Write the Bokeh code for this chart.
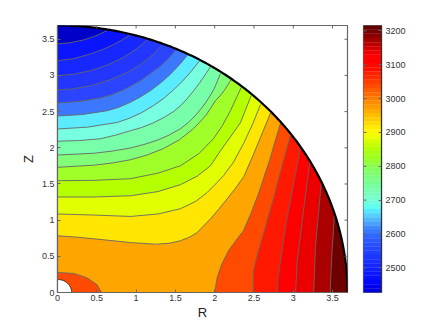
import numpy as np
from bokeh.plotting import figure
from bokeh.layouts import row
from bokeh.models import LinearAxis, FixedTicker, Range1d
from bokeh.embed import file_html
from bokeh.resources import INLINE

# contour lines, coolest to hottest
C1_R = [0, .15, .33, .483, .632]
C1_Z = [3.435, 3.45, 3.49, 3.544, 3.62]
C2_R = [0, .2, .42, .58, .712, .83, .929]
C2_Z = [3.204, 3.23, 3.297, 3.36, 3.426, 3.495, 3.564]
C3_R = [0, .2, .42, .64, .84, 1.0, 1.141]
C3_Z = [2.996, 3.015, 3.066, 3.145, 3.25, 3.36, 3.491]
C4_R = [0, .2, .42, .55, .68, .80, .929, 1.03, 1.13, 1.23, 1.319]
C4_Z = [2.80, 2.815, 2.859, 2.897, 2.945, 3.0, 3.066, 3.135, 3.21, 3.305, 3.412]
C5_R = [0, .27, .547, .68, .81, .93, 1.056, 1.17, 1.29, 1.40, 1.501]
C5_Z = [2.62, 2.64, 2.689, 2.73, 2.785, 2.85, 2.928, 3.015, 3.11, 3.22, 3.343]
C6_R = [0, .32, .636, .78, .92, 1.05, 1.183, 1.31, 1.43, 1.54, 1.65]
C6_Z = [2.44, 2.46, 2.513, 2.56, 2.625, 2.70, 2.79, 2.895, 3.01, 3.135, 3.274]
C7_R = [0, .38, .763, .92, 1.07, 1.21, 1.349, 1.47, 1.59, 1.70, 1.81]
C7_Z = [2.26, 2.285, 2.351, 2.41, 2.485, 2.575, 2.679, 2.795, 2.92, 3.055, 3.204]
C8_R = [0, .28, .547, .74, .929, 1.07, 1.2, 1.34, 1.476, 1.57, 1.65, 1.73, 1.81, 1.88, 1.947]
C8_Z = [2.09, 2.10, 2.125, 2.175, 2.236, 2.28, 2.335, 2.41, 2.50, 2.585, 2.68, 2.785, 2.90, 3.01, 3.122]
C9_R = [0, .47, .70, .929, 1.1, 1.27, 1.42, 1.565, 1.66, 1.75, 1.82, 1.883, 1.94, 1.99, 2.035, 2.074]
C9_Z = [1.90, 1.925, 1.955, 1.997, 2.045, 2.105, 2.175, 2.264, 2.345, 2.44, 2.53, 2.62, 2.715, 2.81, 2.92, 3.025]
C10_R = [0, .47, .70, .929, 1.14, 1.35, 1.55, 1.73, 1.81, 1.89, 1.95, 2.01, 2.07, 2.12, 2.21]
C10_Z = [1.73, 1.76, 1.79, 1.835, 1.90, 1.99, 2.11, 2.264, 2.355, 2.45, 2.55, 2.651, 2.72, 2.79, 2.942]
C11_R = [0, .47, .929, 1.28, 1.565, 1.8, 1.985, 2.1, 2.201, 2.337]
C11_Z = [1.545, 1.55, 1.573, 1.65, 1.752, 1.92, 2.126, 2.31, 2.513, 2.831]
C12_R = [0, .47, .929, 1.28, 1.565, 1.78, 1.947, 2.074, 2.2, 2.328, 2.464]
C12_Z = [1.32, 1.32, 1.337, 1.395, 1.49, 1.61, 1.752, 1.96, 2.15, 2.347, 2.72]
C13_R = [0, .47, .929, 1.28, 1.565, 1.76, 1.905, 2.03, 2.112, 2.239, 2.366, 2.48, 2.583]
C13_Z = [1.085, 1.07, 1.051, 1.085, 1.158, 1.26, 1.383, 1.52, 1.614, 1.80, 2.057, 2.32, 2.596]
C14_R = [0, .25, .505, .929, 1.247, 1.42, 1.565, 1.68, 1.781, 1.947, 2.05, 2.125, 2.25, 2.37, 2.49, 2.608, 2.71]
C14_Z = [.784, .765, .738, .69, .668, .68, .715, .765, .833, 1.019, 1.15, 1.25, 1.42, 1.60, 1.90, 2.209, 2.48]
B1_R = [2.0, 2.032, 2.09, 2.176, 2.27, 2.366, 2.46, 2.557, 2.697, 2.837]
B1_Z = [0, .207, .39, .577, .72, .853, 1.09, 1.365, 1.822, 2.337]
B2_R = [2.49, 2.494, 2.55, 2.621, 2.75, 2.875, 2.964]
B2_Z = [0, .30, .55, .812, 1.31, 1.822, 2.167]
B3_R = [2.80, 2.805, 2.837, 2.922, 3.062, 3.092]
B3_Z = [0, .2, .438, 1.037, 1.822, 2.029]
B4_R = [3.03, 3.05, 3.13, 3.212]
B4_Z = [0, .438, 1.13, 1.822]
B5_R = [3.26, 3.282, 3.355]
B5_Z = [0, .622, 1.50]
B6_R = [3.47, 3.486, 3.524]
B6_Z = [0, .438, 1.084]
BLOB_R = [0, .207, .29, .378, .505, .56]
BLOB_Z = [.277, .263, .235, .20, .107, 0]

contours = [(C1_R, C1_Z), (C2_R, C2_Z), (C3_R, C3_Z), (C4_R, C4_Z), (C5_R, C5_Z), (C6_R, C6_Z), (C7_R, C7_Z),
            (C8_R, C8_Z), (C9_R, C9_Z), (C10_R, C10_Z), (C11_R, C11_Z), (C12_R, C12_Z), (C13_R, C13_Z),
            (C14_R, C14_Z), (B1_R, B1_Z), (B2_R, B2_Z), (B3_R, B3_Z), (B4_R, B4_Z), (B5_R, B5_Z), (B6_R, B6_Z)]

band_colors = ["#0000c8", "#0a14ff", "#1628ff", "#2236ff", "#2a44ff", "#3c78ff", "#5aebff", "#78ffe1", "#78ffaa",
               "#82ff78", "#a0ff28", "#b4ff00", "#e1ff00", "#ffe600", "#ffa500", "#ff4b00", "#ff1900",
               "#ff0000", "#eb0000", "#aa0000", "#6e0000"]
blob_color = "#ff4b00"

# colour bar cells top to bottom
CB_TOP = 3216
CB_BOTTOM = 2427
cb_colors = ["#640000", "#780000", "#8c0000", "#a40000", "#bc0000", "#d40000", "#ec0000", "#ff0000",
             "#ff0000", "#ff0800", "#ff1000", "#ff2000", "#ff2c00", "#ff3c00", "#ff4c00", "#ff5c00",
             "#ff6c00", "#ff7c00", "#ff8c00", "#ff9c00", "#ffac00", "#ffbc00", "#ffcc00", "#ffdc00",
             "#ffec00", "#fff800", "#f0ff00", "#dcff00", "#c8ff00", "#b4ff00", "#a8ff10", "#a0ff20",
             "#98ff30", "#8cff48", "#84ff60", "#80ff70", "#7cff80", "#78ff90", "#78ffa0", "#78ffb0",
             "#78ffc0", "#78ffd0", "#70ffe0", "#60fff0", "#58e8ff", "#54d0ff", "#50b8ff", "#48a0ff",
             "#4088ff", "#3878ff", "#3068ff", "#2c58ff", "#2850ff", "#2448ff", "#2040ff", "#1c38ff",
             "#1830ff", "#1428ff", "#1020ff", "#0c18ff", "#0810ff", "#0008ff", "#0000f0", "#0000e0"]

r_ticks = [0, .5, 1, 1.5, 2, 2.5, 3, 3.5]
z_ticks = [0, .5, 1, 1.5, 2, 2.5, 3, 3.5]
cb_ticks = [2500, 2600, 2700, 2800, 2900, 3000, 3100, 3200]
R_OUT = 3.69
R_IN = 0.18
FONT = "Liberation Sans"
AX = "#666666"
TXT = "#333333"


def style_axis(ax, ticks, standoff):
    ax.ticker = FixedTicker(ticks=ticks)
    ax.axis_line_color = AX
    ax.axis_line_width = 1.2
    ax.major_tick_line_color = AX
    ax.major_tick_in = 3
    ax.major_tick_out = 0
    ax.minor_tick_line_color = None
    ax.major_label_text_font = FONT
    ax.major_label_text_color = TXT
    ax.major_label_text_font_size = "9px"
    ax.major_label_standoff = standoff


def arc_to_top(r_end, z_end):
    a0 = np.arctan2(z_end, r_end)
    a = np.linspace(a0, np.pi / 2, 60)
    return R_OUT * np.cos(a), R_OUT * np.sin(a)


p = figure(width=360, height=328, x_range=Range1d(0, R_OUT), y_range=Range1d(0, R_OUT),
           output_backend="svg", toolbar_location=None, x_axis_location=None, y_axis_location=None,
           min_border_left=57, min_border_right=13, min_border_top=25, min_border_bottom=36)
p.grid.visible = False
p.outline_line_color = AX
p.outline_line_width = 1.2
p.background_fill_color = "white"

ax_l = LinearAxis(axis_label="Z")
ax_b = LinearAxis(axis_label="R")
style_axis(ax_l, z_ticks, 3)
style_axis(ax_b, r_ticks, 2)
for ax in (ax_l, ax_b):
    ax.axis_label_text_font = FONT
    ax.axis_label_text_font_style = "normal"
    ax.axis_label_text_font_size = "13px"
    ax.axis_label_text_color = "#222222"
ax_l.axis_label_standoff = 3
ax_b.axis_label_standoff = 1
p.add_layout(ax_l, "left")
p.add_layout(ax_b, "below")

# whole quarter disc in the hottest colour, then cooler regions painted over it
ta = np.linspace(0, np.pi / 2, 200)
disc_x = np.concatenate([[0], R_OUT * np.cos(ta)])
disc_y = np.concatenate([[0], R_OUT * np.sin(ta)])
p.patch(disc_x, disc_y, fill_color=band_colors[20], line_color=None)

for k in range(len(contours) - 1, -1, -1):
    cr, cz = contours[k]
    ax_, az_ = arc_to_top(cr[-1], cz[-1])
    xs = list(cr) + list(ax_)
    ys = list(cz) + list(az_)
    if cz[0] == 0:
        xs = [0] + xs
        ys = [0] + ys
    p.patch(xs, ys, fill_color=band_colors[k], line_color=None)

p.patch([0] + BLOB_R, [0] + BLOB_Z, fill_color=blob_color, line_color=None)

line_color = "#666666"
p.multi_line([c[0] for c in contours] + [BLOB_R], [c[1] for c in contours] + [BLOB_Z],
             line_color=line_color, line_width=0.9)

p.patch(np.concatenate([[0], R_IN * np.cos(ta)]), np.concatenate([[0], R_IN * np.sin(ta)]),
        fill_color="white", line_color=None)
p.line(R_IN * np.cos(ta), R_IN * np.sin(ta), line_color="#111111", line_width=0.8)
p.line(R_OUT * np.cos(ta), R_OUT * np.sin(ta), line_color="black", line_width=2.2)

# tick marks on the top and right edges of the frame
dx = 3 * R_OUT / 290
dy = 3 * R_OUT / 267
p.segment(r_ticks, R_OUT, r_ticks, R_OUT - dy, line_color=AX, line_width=1)
p.segment(R_OUT, z_ticks, R_OUT - dx, z_ticks, line_color=AX, line_width=1)

cb_edges = np.linspace(CB_TOP, CB_BOTTOM, len(cb_colors) + 1)
cb = figure(width=76, height=328, x_range=Range1d(0, 1), y_range=Range1d(CB_BOTTOM, CB_TOP),
            output_backend="svg", toolbar_location=None, x_axis_location=None, y_axis_location=None,
            min_border_left=3, min_border_right=55, min_border_top=25, min_border_bottom=36)
cb.grid.visible = False
cb.outline_line_color = AX
cb.outline_line_width = 1.2
cb.quad(left=0, right=1, top=cb_edges[:-1], bottom=cb_edges[1:], fill_color=cb_colors, line_color=cb_colors, line_width=0.3)
cb_r = LinearAxis()
style_axis(cb_r, cb_ticks, 4)
cb_r.axis_line_color = "#333333"
cb.add_layout(cb_r, "right")
cb.segment(0, cb_ticks, 3 / 18, cb_ticks, line_color=AX, line_width=1)

page = row(p, cb)
open("out.html", "w").write(file_html(page, INLINE))
